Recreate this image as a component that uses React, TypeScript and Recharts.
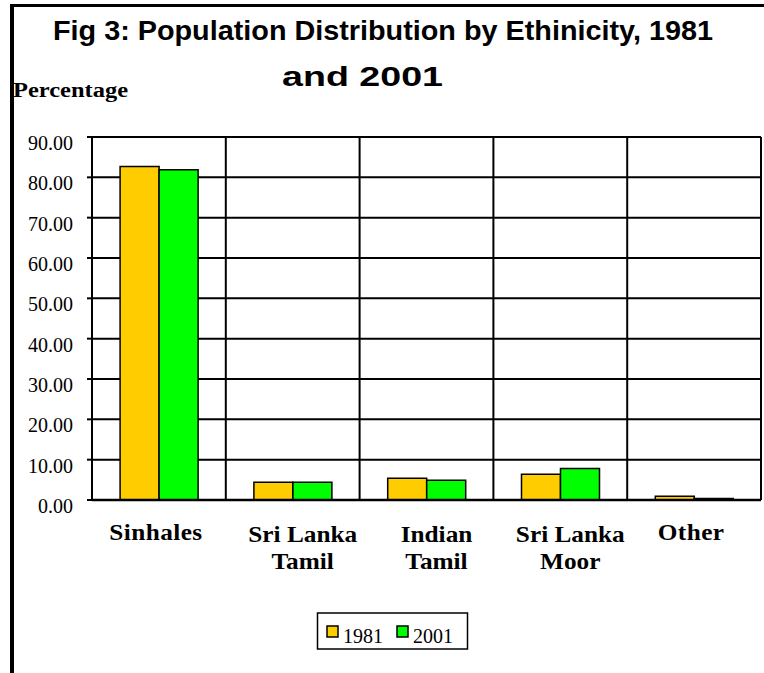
import { BarChart, Bar, XAxis, YAxis, CartesianGrid } from "recharts";

// categories and series
const categories = ["Sinhales", "Sri Lanka Tamil", "Indian Tamil", "Sri Lanka Moor", "Other"];
const values1981 = [82.7, 4.4, 5.4, 6.4, 0.9];
const values2001 = [81.9, 4.4, 4.9, 7.8, 0.4];
const yTicks = [0, 10, 20, 30, 40, 50, 60, 70, 80, 90];

const seriesNames = ["1981", "2001"];
const seriesColors = ["#FFCC00", "#00FF00"];

const data = categories.map((name, i) => ({
  name,
  y1981: values1981[i],
  y2001: values2001[i],
}));

const serif = "'Liberation Serif', 'Times New Roman', serif";
const sans = "'Liberation Sans', Arial, sans-serif";

function splitLabel(s: string): string[] {
  const idx = s.lastIndexOf(" ");
  return idx < 0 ? [s] : [s.slice(0, idx), s.slice(idx + 1)];
}

function CategoryTick(props: any) {
  const { x, payload } = props;
  const lines = splitLabel(String(payload.value));
  const single = lines.length === 1;
  // Excel nudges wrapped labels a little to the right
  const cx = x + (single ? -3 : 10);
  return (
    <g transform={`translate(${cx},0) scale(1.1,1)`}>
      <text
        x={0}
        y={single ? 540 : 542}
        textAnchor="middle"
        fontFamily={serif}
        fontWeight="bold"
        fontSize={23}
        letterSpacing={single ? 0.4 : 0}
        fill="#000"
      >
        {lines.map((l, i) => (
          <tspan key={i} x={0} dy={i === 0 ? 0 : 27}>
            {l}
          </tspan>
        ))}
      </text>
    </g>
  );
}

function ValueTick(props: any) {
  const { x, y, payload } = props;
  return (
    <text x={x} y={y + 6} dy="0.355em" textAnchor="end" fontFamily={serif} fontSize={20} fill="#000">
      {Number(payload.value).toFixed(2)}
    </text>
  );
}

export default function App() {
  return (
    <div style={{ position: "absolute", left: 0, top: 0, width: 764, height: 673, background: "#fff" }}>
      <BarChart
        width={764}
        height={673}
        data={data}
        margin={{ top: 137, right: 3, left: 0, bottom: 0 }}
        barCategoryGap="21%"
        barGap={0}
      >
        <CartesianGrid
          stroke="#000"
          strokeWidth={2}
          verticalCoordinatesGenerator={({ offset }: any) =>
            categories.concat([""]).map((_, i) => offset.left + (i * offset.width) / categories.length)
          }
        />
        <XAxis
          dataKey="name"
          interval={0}
          height={173}
          tickLine={false}
          axisLine={{ stroke: "#000", strokeWidth: 2.5 }}
          tick={<CategoryTick />}
        />
        <YAxis
          width={92}
          domain={[0, 90]}
          ticks={yTicks}
          tickSize={5}
          tickMargin={14}
          tickLine={{ stroke: "#000", strokeWidth: 2 }}
          axisLine={{ stroke: "#000", strokeWidth: 2 }}
          tick={<ValueTick />}
        />
        <Bar dataKey="y1981" name={seriesNames[0]} fill={seriesColors[0]} stroke="#000" strokeWidth={1.5} isAnimationActive={false} />
        <Bar dataKey="y2001" name={seriesNames[1]} fill={seriesColors[1]} stroke="#000" strokeWidth={1.5} isAnimationActive={false} />
      </BarChart>

      <svg
        width={764}
        height={673}
        style={{ position: "absolute", left: 0, top: 0, pointerEvents: "none" }}
      >
        {/* frame */}
        <line x1={10} y1={5.5} x2={764} y2={5.5} stroke="#000" strokeWidth={3} />
        <line x1={12} y1={4} x2={12} y2={673} stroke="#000" strokeWidth={4} />

        {/* title */}
        <text x={53} y={40} fontFamily={sans} fontWeight="bold" fontSize={27} textLength={660} lengthAdjust="spacingAndGlyphs" fill="#000">
          Fig 3: Population Distribution by Ethinicity, 1981
        </text>
        <text x={282} y={86} fontFamily={sans} fontWeight="bold" fontSize={27} textLength={161} lengthAdjust="spacingAndGlyphs" fill="#000">
          and 2001
        </text>
        <text x={13} y={97} fontFamily={serif} fontWeight="bold" fontSize={20} textLength={115} lengthAdjust="spacingAndGlyphs" fill="#000">
          Percentage
        </text>

        {/* legend */}
        <rect x={317.5} y={613} width={150} height={36} fill="#fff" stroke="#000" strokeWidth={1.5} />
        {seriesNames.map((n, i) => (
          <g key={n}>
            <rect x={327 + i * 70} y={626} width={11} height={11} fill={seriesColors[i]} stroke="#000" strokeWidth={1.5} />
            <text x={343 + i * 70} y={643} fontFamily={serif} fontSize={20} fill="#000">
              {n}
            </text>
          </g>
        ))}
      </svg>
    </div>
  );
}
